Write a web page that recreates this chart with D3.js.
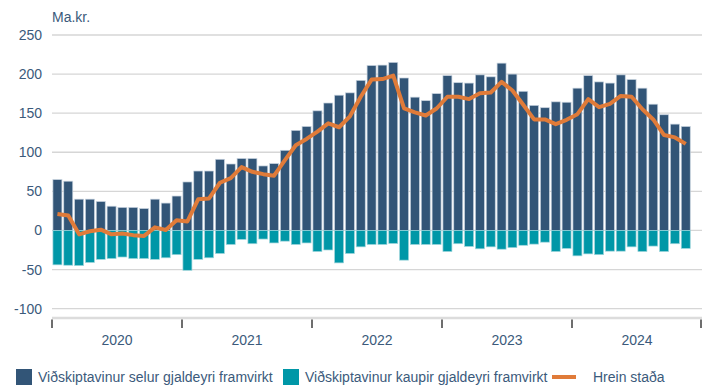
<!DOCTYPE html>
<html>
<head>
<meta charset="utf-8">
<script src="https://cdn.jsdelivr.net/npm/d3@7"></script>
<style>
  html, body { margin: 0; padding: 0; background: #fff; }
  svg { display: block; font-family: "Liberation Sans", Arial, sans-serif; }
</style>
</head>
<body>
<svg id="chart" width="702" height="385"></svg>
<script>
// Monthly forward FX positions, Jan 2020 – Nov 2024 (Ma.kr.)
const years = ["2020", "2021", "2022", "2023", "2024"];
const months = d3.timeMonth.range(new Date(2020, 0, 1), new Date(2025, 0, 1)); // 60 slots, data ends Nov 2024

const sellValues = [
  65, 63, 40, 40, 37, 31, 29.5, 29.5, 28, 40, 35, 44,
  62, 76, 76, 91, 85, 92, 92, 82.5, 85.5, 102.5, 128, 133,
  153, 163, 173, 176, 192, 211, 211.5, 215, 195, 170.5, 166, 175,
  198, 189, 188.5, 199, 196.5, 214, 200, 178, 160, 157, 164.5, 164,
  182, 198, 190, 188.5, 199, 193, 182, 161.5, 148, 136, 133
];
const buyValues = [
  -44, -44.5, -45, -41, -37, -36, -34, -36, -36, -37, -35, -31,
  -51, -37, -35, -29.5, -18, -11.5, -17, -11, -16, -13.7, -18, -16,
  -27, -25, -41.5, -29.5, -21, -18, -18, -16.7, -38, -18, -18, -18,
  -27, -17, -20.5, -23.5, -21, -24, -22, -19, -17.5, -15, -27, -23,
  -32.5, -30, -31, -26.5, -26.5, -21, -27, -20, -27, -17, -23
];
const netValues = [
  21, 19, -5, -1, 1, -5, -4, -6, -7, 4, 0.5, 13,
  11.5, 40, 41, 61, 67, 81, 75, 72, 70, 90, 109, 117,
  126.5, 137, 132, 146, 171, 193, 193.6, 198, 156, 151, 147, 156,
  171, 171, 168, 175.6, 176.5, 190, 179, 160.7, 142, 142, 136, 141.5,
  148.7, 168, 157.7, 162, 172, 171, 155, 142, 122, 119, 110.7
];
const yTicks = [-100, -50, 0, 50, 100, 150, 200, 250];
const seriesNames = [
  "Viðskiptavinur selur gjaldeyri framvirkt",
  "Viðskiptavinur kaupir gjaldeyri framvirkt",
  "Hrein staða"
];
const unitLabel = "Ma.kr.";

const colors = { sell: "#325577", buy: "#0097a7", net: "#e07b39" };
const textColor = "#3b5a7b";

const svg = d3.select("#chart");
const plot = { left: 52, right: 702, top: 35, bottom: 318 };

const x = d3.scaleBand()
  .domain(months.map((d, i) => i))
  .range([plot.left, plot.right])
  .paddingInner(0.17)
  .paddingOuter(0.085);
const slot = x.step();

const y = d3.scaleLinear().domain([-112, 250]).range([plot.bottom, plot.top]);

// Gridlines and value axis labels
svg.append("g").selectAll("line")
  .data(yTicks)
  .join("line")
  .attr("x1", plot.left).attr("x2", plot.right)
  .attr("y1", d => y(d)).attr("y2", d => y(d))
  .attr("stroke", "#d6d6d6")
  .attr("stroke-width", 1.3);

const yAxis = d3.axisLeft(y).tickValues(yTicks).tickSize(0).tickPadding(10)
  .tickFormat(d => String(d));
const gy = svg.append("g").attr("transform", `translate(${plot.left},0)`).call(yAxis);
gy.select(".domain").remove();
gy.selectAll("text")
  .attr("x", -10)
  .style("font-size", "14px")
  .style("font-family", "'Liberation Sans', Arial, sans-serif")
  .style("fill", textColor);

svg.append("text")
  .attr("x", plot.left).attr("y", 22)
  .style("font-size", "14px")
  .style("fill", textColor)
  .text(unitLabel);

// Bars
svg.append("g").selectAll("rect")
  .data(sellValues)
  .join("rect")
  .attr("x", (d, i) => x(i))
  .attr("width", x.bandwidth())
  .attr("y", d => y(Math.max(0, d)))
  .attr("height", d => Math.abs(y(d) - y(0)))
  .attr("fill", colors.sell)
  .attr("stroke", "#c6d2de")
  .attr("stroke-width", 0.7);

svg.append("g").selectAll("rect")
  .data(buyValues)
  .join("rect")
  .attr("x", (d, i) => x(i))
  .attr("width", x.bandwidth())
  .attr("y", d => y(Math.max(0, d)))
  .attr("height", d => Math.abs(y(d) - y(0)))
  .attr("fill", colors.buy)
  .attr("stroke", "#9fd6dc")
  .attr("stroke-width", 0.7);

// Net position line
const line = d3.line()
  .x((d, i) => x(i) + x.bandwidth() / 2)
  .y(d => y(d));
svg.append("path")
  .datum(netValues)
  .attr("d", line)
  .attr("fill", "none")
  .attr("stroke", colors.net)
  .attr("stroke-width", 4)
  .attr("stroke-linejoin", "round")
  .attr("stroke-linecap", "butt");

// Category axis: baseline, year separators, year labels
svg.append("line")
  .attr("x1", plot.left).attr("x2", plot.right)
  .attr("y1", plot.bottom).attr("y2", plot.bottom)
  .attr("stroke", "#dcdcdc")
  .attr("stroke-width", 2.5);

const yearEdges = d3.range(years.length + 1).map(k => plot.left + k * 12 * slot);
svg.append("g").selectAll("line")
  .data(yearEdges)
  .join("line")
  .attr("x1", d => Math.min(d, plot.right - 1)).attr("x2", d => Math.min(d, plot.right - 1))
  .attr("y1", plot.bottom + 1.5).attr("y2", plot.bottom + 10)
  .attr("stroke", "#4a4a4a")
  .attr("stroke-width", 1.6);

svg.append("g").selectAll("text")
  .data(years)
  .join("text")
  .attr("x", (d, k) => plot.left + (k + 0.5) * 12 * slot)
  .attr("y", 345)
  .attr("text-anchor", "middle")
  .style("font-size", "14px")
  .style("fill", textColor)
  .text(d => d);

// Legend
const legend = svg.append("g").style("font-size", "14px").style("fill", textColor);
legend.append("rect").attr("x", 16).attr("y", 369).attr("width", 16).attr("height", 16).attr("fill", colors.sell);
legend.append("text").attr("x", 38).attr("y", 382).text(seriesNames[0]);
legend.append("rect").attr("x", 283).attr("y", 369).attr("width", 16).attr("height", 16).attr("fill", colors.buy);
legend.append("text").attr("x", 305).attr("y", 382).text(seriesNames[1]);
legend.append("line").attr("x1", 552).attr("x2", 576).attr("y1", 377).attr("y2", 377)
  .attr("stroke", colors.net).attr("stroke-width", 4);
legend.append("text").attr("x", 593).attr("y", 382).text(seriesNames[2]);
</script>
</body>
</html>
